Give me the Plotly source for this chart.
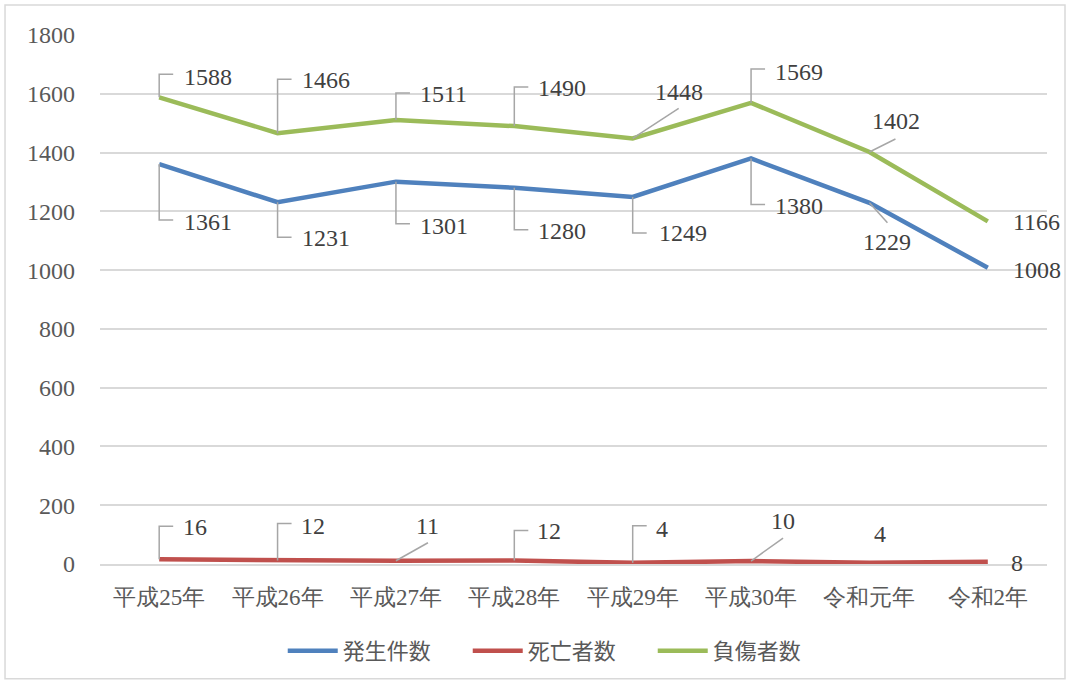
import plotly.graph_objects as go

categories = ["平成25年", "平成26年", "平成27年", "平成28年", "平成29年", "平成30年", "令和元年", "令和2年"]
incidents = [1361, 1231, 1301, 1280, 1249, 1380, 1229, 1008]   # 発生件数
deaths = [16, 12, 11, 12, 4, 10, 4, 8]                         # 死亡者数
injured = [1588, 1466, 1511, 1490, 1448, 1569, 1402, 1166]     # 負傷者数
y_ticks = [0, 200, 400, 600, 800, 1000, 1200, 1400, 1600, 1800]

series = [
    ("発生件数", incidents, "#4F81BD"),
    ("死亡者数", deaths, "#C0504D"),
    ("負傷者数", injured, "#9BBB59"),
]

# label placement: (text dx, text dy, leader kind, leader params) in pixels, dy positive = up
label_pos = {
    "負傷者数": [(49, 20, "e", 23), (48, 53, "e", 54), (48, 26, "e", 27), (48, 38, "e", 39),
             (46, 46, "d", (46, 30)), (48, 31, "e", 34), (27, 31, "d", (26, 13)), (49, -1, None, None)],
    "発生件数": [(49, -58, "e", -56), (48, -36, "e", -35), (48, -44, "e", -42), (48, -43, "e", -42),
             (50, -36, "e", -36), (48, -48, "e", -46), (18, -39, "d", (18, -20)), (49, -2, None, None)],
    "死亡者数": [(36, 32, "e", 33), (35, 34, "e", 37), (32, 35, "d", (32, 18)), (35, 29, "e", 30),
             (29, 34, "e", 37), (32, 40, "d", (32, 23)), (11, 29, None, None), (29, -1, None, None)],
}

SERIF = "Liberation Serif"
fig = go.Figure()
for name, vals, color in series:
    fig.add_trace(go.Scatter(x=categories, y=vals, name=name, mode="lines",
                             line=dict(color=color, width=4.5)))

annotations = []
shapes = []
for name, vals, color in series:
    for cat, v, (dx, dy, kind, lp) in zip(categories, vals, label_pos[name]):
        annotations.append(dict(x=cat, y=v, xref="x", yref="y", text=str(v), showarrow=False,
                                xshift=dx, yshift=dy, font=dict(family=SERIF, size=24, color="#404040")))
        if kind == "e":
            path = f"M 0 0 L 0 {lp} L 14 {lp}"
        elif kind == "d":
            path = f"M 0 0 L {lp[0]} {lp[1]}"
        else:
            continue
        shapes.append(dict(type="path", xref="x", yref="y", xsizemode="pixel", ysizemode="pixel",
                           xanchor=cat, yanchor=v, path=path,
                           line=dict(color="#A6A6A6", width=1.5), layer="above"))

# outer chart border
shapes.append(dict(type="rect", xref="paper", yref="paper", x0=-0.1003, x1=1.019, y0=-0.217, y1=1.0566,
                   line=dict(color="#D9D9D9", width=1.5), layer="below"))

fig.update_layout(
    width=1070, height=683,
    margin=dict(l=100, r=23, t=35, b=118),
    paper_bgcolor="white", plot_bgcolor="white",
    showlegend=True,
    legend=dict(orientation="h", x=0.486, xanchor="center", y=-0.162, yanchor="middle",
                font=dict(family="Noto Sans CJK JP", size=22, color="#595959"), itemwidth=50,
                entrywidth=120, entrywidthmode="pixels", tracegroupgap=0),
    xaxis=dict(showgrid=False, showline=True, linecolor="#D9D9D9", linewidth=1.5,
               tickfont=dict(family=SERIF, size=23, color="#595959"), ticks="",
               ticklabelstandoff=12, range=[-0.5, len(categories) - 0.5]),
    yaxis=dict(range=[0, 1800], tickvals=y_ticks, showgrid=True, gridcolor="#D9D9D9", gridwidth=1.5,
               zeroline=False, showline=False, ticks="", ticklabelstandoff=24,
               tickfont=dict(family=SERIF, size=24, color="#595959")),
    annotations=annotations,
    shapes=shapes,
)

fig.write_html("out.html", post_script="document.body.style.margin='0';",
               config={"displayModeBar": False})
